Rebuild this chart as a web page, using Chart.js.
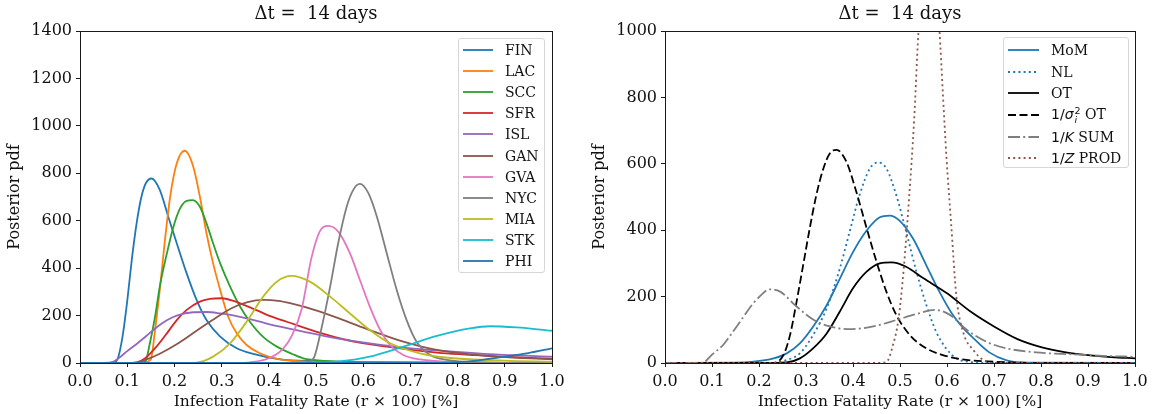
<!DOCTYPE html>
<html><head><meta charset="utf-8">
<script src="https://cdn.jsdelivr.net/npm/chart.js@4.4.1/dist/chart.umd.min.js"></script>
<style>
html,body{margin:0;padding:0;background:#fff;overflow:hidden;width:1154px;height:414px;position:relative;}
#wrapL{position:absolute;left:0;top:0;width:577px;height:414px;}
#wrapR{position:absolute;left:585px;top:0;width:569px;height:414px;}
.legend{position:absolute;background:rgba(255,255,255,0.85);border:1px solid #d6d6d6;border-radius:3px;font-family:'DejaVu Serif';font-size:14px;color:#111;box-sizing:border-box;}
.row{position:relative;white-space:nowrap;}
.row svg{position:absolute;top:50%;margin-top:-5px;}
.row .t{position:absolute;top:50%;transform:translateY(-50%);line-height:16px;}
.m{font-family:'DejaVu Sans';}
.ss{display:inline-block;vertical-align:-4px;font-family:'DejaVu Sans';font-size:9.5px;line-height:9px;margin-left:1px;}
.ss span{display:block;}
.ss span.i{font-style:italic;}
</style>
</head><body>
<div id="wrapL"><canvas id="cL" width="577" height="414"></canvas></div>
<div id="wrapR"><canvas id="cR" width="569" height="414"></canvas></div>
<div id="legL" class="legend" style="left:458px;top:38px;width:87px;height:235px;"></div>
<div id="legR" class="legend" style="left:1003px;top:37px;width:126px;height:131px;"></div>
<script>
// ---------- DATA (x = IFR %, y = posterior pdf) ----------
const xTicks = [0.0,0.1,0.2,0.3,0.4,0.5,0.6,0.7,0.8,0.9,1.0];
const yTicksLeft = [0,200,400,600,800,1000,1200,1400];
const yTicksRight = [0,200,400,600,800,1000];
const titleText = 'Δt =  14 days';

const FIN = [[0,0],[0.06,0],[0.072,3],[0.08,18],[0.09,110],[0.1,260],[0.11,440],[0.12,590],[0.13,700],[0.14,760],[0.152,778],[0.169,730],[0.187,617],[0.205,505],[0.226,378],[0.247,266],[0.268,181],[0.297,111],[0.332,62],[0.367,38],[0.424,15],[0.5,8],[0.6,4],[0.8,1],[1.0,0]];
const LAC = [[0,0],[0.13,0],[0.15,15],[0.159,139],[0.169,308],[0.18,519],[0.191,701],[0.205,842],[0.222,895],[0.24,828],[0.254,701],[0.268,547],[0.282,420],[0.297,308],[0.314,195],[0.332,125],[0.353,76],[0.381,41],[0.424,15],[0.5,5],[0.6,2],[1.0,0]];
const SCC = [[0,0],[0.12,0],[0.138,5],[0.148,83],[0.159,195],[0.169,322],[0.184,462],[0.198,575],[0.212,652],[0.226,684],[0.239,687],[0.254,659],[0.268,589],[0.282,505],[0.297,420],[0.318,322],[0.339,238],[0.36,174],[0.388,110],[0.417,69],[0.45,38],[0.473,20],[0.52,9],[0.6,3],[1.0,0]];
const SFR = [[0,0],[0.1,0],[0.12,2],[0.138,20],[0.162,69],[0.184,125],[0.205,181],[0.226,224],[0.254,259],[0.275,270],[0.3,273],[0.325,262],[0.35,243],[0.375,222],[0.4,200],[0.438,174],[0.5,132],[0.565,97],[0.65,69],[0.756,44],[0.9,27],[1.0,18]];
const ISL = [[0,0],[0.05,0],[0.07,5],[0.085,25],[0.1,50],[0.12,80],[0.141,115],[0.162,150],[0.184,180],[0.205,200],[0.24,214],[0.268,215],[0.297,209],[0.339,195],[0.381,174],[0.424,153],[0.473,132],[0.544,104],[0.614,83],[0.685,65],[0.791,48],[0.897,34],[1.0,27]];
const GAN = [[0,0],[0.1,0],[0.12,3],[0.141,15],[0.17,40],[0.21,85],[0.25,140],[0.28,180],[0.32,230],[0.355,257],[0.39,266],[0.42,262],[0.445,252],[0.5,222],[0.558,181],[0.614,139],[0.685,90],[0.756,55],[0.862,30],[1.0,15]];
const GVA = [[0,0],[0.33,0],[0.36,3],[0.4,20],[0.43,60],[0.45,120],[0.47,230],[0.49,440],[0.508,555],[0.526,578],[0.547,554],[0.572,462],[0.593,350],[0.614,238],[0.636,139],[0.657,76],[0.685,34],[0.72,15],[0.777,6],[0.85,2],[1.0,0]];
const NYC = [[0,0],[0.46,0],[0.48,3],[0.495,20],[0.512,150],[0.53,322],[0.547,505],[0.565,659],[0.579,730],[0.593,755],[0.611,716],[0.629,617],[0.65,462],[0.671,308],[0.692,181],[0.713,90],[0.742,34],[0.777,13],[0.85,3],[1.0,0]];
const MIA = [[0,0],[0.2,0],[0.247,2],[0.282,27],[0.318,83],[0.353,174],[0.388,280],[0.417,343],[0.448,367],[0.487,343],[0.53,280],[0.572,209],[0.614,139],[0.657,83],[0.72,41],[0.791,20],[0.897,10],[1.0,5]];
const STK = [[0,0],[0.4,0],[0.47,1],[0.544,6],[0.614,27],[0.685,69],[0.756,114],[0.826,146],[0.869,155],[0.925,150],[1.0,136]];
const PHI = [[0,0],[0.7,0],[0.78,2],[0.83,8],[0.9,27],[0.95,42],[1.0,62]];

const MOM = [[0,0],[0.15,1],[0.188,4],[0.231,14],[0.259,29],[0.287,59],[0.315,109],[0.344,174],[0.372,254],[0.4,334],[0.429,399],[0.457,439],[0.478,444],[0.499,429],[0.528,374],[0.556,294],[0.584,214],[0.61,150],[0.635,105],[0.656,75],[0.69,32],[0.727,8],[0.77,1],[1.0,0]];
const NL = [[0,0],[0.22,0],[0.259,9],[0.287,29],[0.315,84],[0.344,165],[0.372,285],[0.393,396],[0.414,506],[0.436,586],[0.453,604],[0.471,586],[0.492,506],[0.513,396],[0.535,275],[0.556,175],[0.577,94],[0.598,44],[0.62,14],[0.65,3],[0.7,0],[1.0,0]];
const OT = [[0,0],[0.2,0],[0.259,2],[0.287,14],[0.315,44],[0.344,89],[0.372,155],[0.4,225],[0.429,275],[0.457,300],[0.482,303],[0.513,290],[0.55,255],[0.6,210],[0.65,155],[0.7,110],[0.75,72],[0.8,48],[0.85,33],[0.9,24],[0.95,18],[1.0,14]];
const WOT = [[0,0],[0.23,0],[0.252,24],[0.266,84],[0.28,185],[0.294,295],[0.308,406],[0.322,506],[0.337,586],[0.351,632],[0.365,642],[0.386,606],[0.407,516],[0.429,406],[0.45,305],[0.471,215],[0.492,145],[0.521,84],[0.556,44],[0.591,24],[0.627,12],[0.7,4],[0.8,0],[1.0,0]];
const SUM = [[0,0],[0.07,0],[0.082,2],[0.1,25],[0.124,55],[0.14,85],[0.16,125],[0.188,180],[0.205,205],[0.222,222],[0.245,215],[0.28,170],[0.316,130],[0.351,110],[0.394,102],[0.443,110],[0.493,130],[0.536,148],[0.574,160],[0.606,145],[0.642,100],[0.684,64],[0.727,44],[0.798,31],[0.869,26],[0.94,21],[1.0,19]];
const PROD = [[0,0],[0.45,0],[0.471,3],[0.485,54],[0.497,134],[0.508,285],[0.519,490],[0.53,730],[0.539,990],[0.561,1350],[0.584,1000],[0.591,817],[0.599,616],[0.609,416],[0.62,200],[0.635,90],[0.656,39],[0.677,9],[0.7,0],[1.0,0]];

const leftSeries = [
  ['FIN', FIN, '#1f77b4'], ['LAC', LAC, '#ff7f0e'], ['SCC', SCC, '#2ca02c'], ['SFR', SFR, '#d62728'],
  ['ISL', ISL, '#9467bd'], ['GAN', GAN, '#8c564b'], ['GVA', GVA, '#e377c2'], ['NYC', NYC, '#7f7f7f'],
  ['MIA', MIA, '#bcbd22'], ['STK', STK, '#17becf'], ['PHI', PHI, '#1f77b4']
];
const rightSeries = [
  ['MoM', MOM, '#1f77b4', [], 'MoM'],
  ['NL', NL, '#1f77b4', [2, 3.2], 'NL'],
  ['OT', OT, '#000000', [], 'OT'],
  ['1/σᵢ² OT', WOT, '#000000', [8, 3.5], '<span class="m">1/<i>σ</i></span><span class="ss"><span>2</span><span class="i">i</span></span> OT'],
  ['1/K SUM', SUM, '#7f7f7f', [12, 3.2, 2, 3.2], '<span class="m">1/<i>K</i></span> SUM'],
  ['1/Z PROD', PROD, '#8c564b', [2, 3.2], '<span class="m">1/<i>Z</i></span> PROD']
];

// ---------- CHART SETUP ----------
const TXT = '#111111';
const serif = (s) => ({family: 'DejaVu Serif', size: s, weight: 'normal'});

const frame = {
  id: 'frame',
  afterDraw(c) {
    const {ctx, chartArea: a} = c;
    ctx.save();
    ctx.strokeStyle = '#1a1a1a';
    ctx.lineWidth = 1;
    ctx.strokeRect(Math.round(a.left) + 0.5, Math.round(a.top) + 0.5, Math.round(a.width), Math.round(a.height));
    ctx.restore();
  }
};

function makeDatasets(series) {
  const n = series.length;
  return series.map((s, i) => ({
    label: s[0],
    data: s[1].map(p => ({x: p[0], y: p[1]})),
    borderColor: s[2],
    backgroundColor: s[2],
    borderWidth: 1.8,
    borderDash: s[3] || [],
    pointRadius: 0,
    fill: false,
    cubicInterpolationMode: 'monotone',
    order: n - i
  }));
}

function makeChart(id, series, yMax, yTicks, padRight) {
  return new Chart(document.getElementById(id), {
    type: 'line',
    data: {datasets: makeDatasets(series)},
    options: {
      responsive: false,
      animation: false,
      parsing: false,
      normalized: true,
      layout: {padding: {left: 0, right: padRight, top: 0, bottom: 0}},
      plugins: {
        legend: {display: false},
        tooltip: {enabled: false},
        title: {display: true, text: titleText, fullSize: false, font: serif(18), color: TXT, padding: {top: 4, bottom: 5.4}}
      },
      scales: {
        x: {
          type: 'linear', min: 0, max: 1,
          afterBuildTicks: s => { s.ticks = xTicks.map(v => ({value: v})); },
          ticks: {callback: v => Number(v).toFixed(1), font: serif(16), color: TXT, padding: 5, maxRotation: 0, autoSkip: false},
          grid: {drawOnChartArea: false, drawTicks: true, tickLength: 4, color: '#1a1a1a', lineWidth: 1},
          border: {display: false},
          title: {display: true, text: 'Infection Fatality Rate (r × 100) [%]', font: serif(15.5), color: TXT, padding: {top: 0, bottom: 3}},
          afterFit: s => { s.height = 51; }
        },
        y: {
          type: 'linear', min: 0, max: yMax,
          afterBuildTicks: s => { s.ticks = yTicks.map(v => ({value: v})); },
          ticks: {callback: v => String(v), font: serif(16), color: TXT, padding: 4},
          grid: {drawOnChartArea: false, drawTicks: true, tickLength: 4, color: '#1a1a1a', lineWidth: 1},
          border: {display: false},
          title: {display: true, text: 'Posterior pdf', font: serif(16), color: TXT, padding: {top: 5, bottom: 0}},
          afterFit: s => { s.width = 80; }
        }
      }
    },
    plugins: [frame]
  });
}

const chartL = makeChart('cL', leftSeries, 1400, yTicksLeft, 25);
const chartR = makeChart('cR', rightSeries, 1000, yTicksRight, 19);

// ---------- HTML legends built from the chart datasets ----------
function buildLegend(elId, chart, htmlLabels, rowH, padTop, lineX, lineW, textX) {
  const el = document.getElementById(elId);
  el.style.paddingTop = padTop + 'px';
  chart.data.datasets.forEach((ds, i) => {
    const row = document.createElement('div');
    row.className = 'row';
    row.style.height = rowH + 'px';
    const dash = (ds.borderDash && ds.borderDash.length) ? ds.borderDash.join(' ') : 'none';
    row.innerHTML = '<svg width="' + (lineX + lineW) + '" height="10" style="left:0"><line x1="' + lineX + '" y1="5" x2="' + (lineX + lineW) + '" y2="5" stroke="' + ds.borderColor + '" stroke-width="1.8" stroke-dasharray="' + dash + '"/></svg>' +
      '<span class="t" style="left:' + textX + 'px">' + (htmlLabels ? htmlLabels[i] : ds.label) + '</span>';
    el.appendChild(row);
  });
}
buildLegend('legL', chartL, null, 21.1, 0.5, 4, 30, 46);
buildLegend('legR', chartR, rightSeries.map(s => s[4]), 21.6, 1.5, 4, 31, 47);
</script>
</body></html>
